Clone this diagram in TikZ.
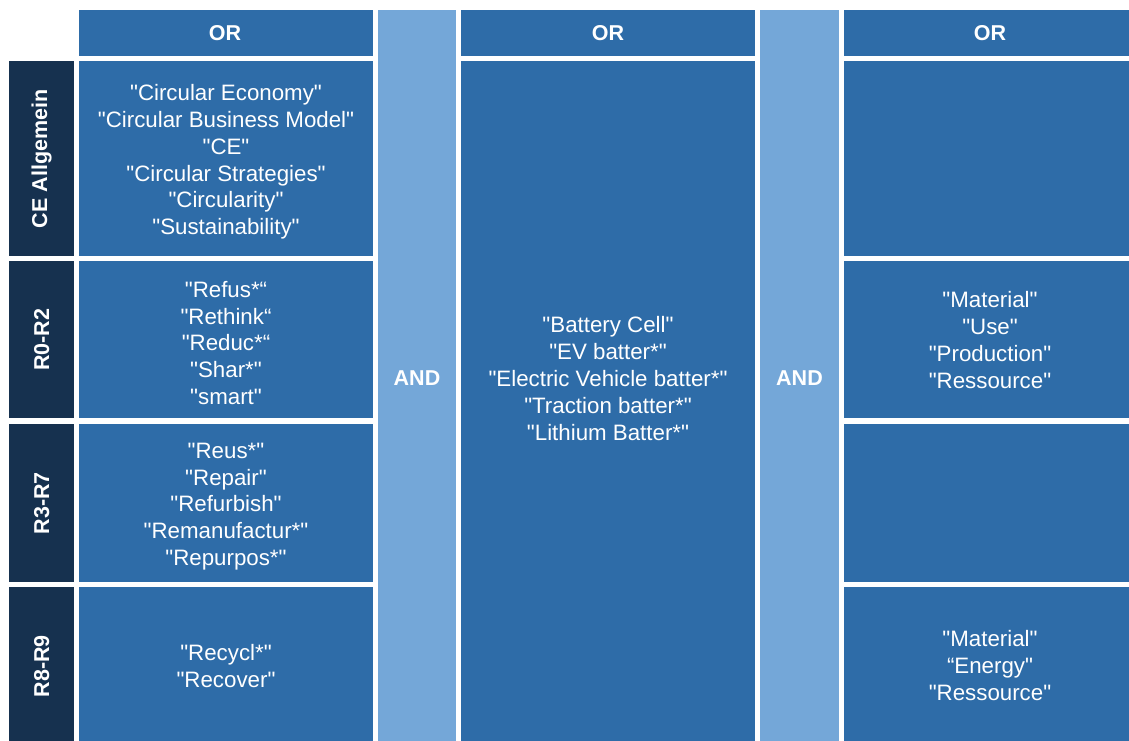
\documentclass[tikz,border=0pt]{standalone}
\usepackage{fontspec}
\setmainfont{Liberation Sans}[Ligatures=TeXOff]
\definecolor{mainblue}{HTML}{2E6CA8}
\definecolor{andblue}{HTML}{74A7D8}
\definecolor{navy}{HTML}{16314F}
\begin{document}
\begin{tikzpicture}[x=1pt,y=-1pt,
  cell/.style={fill=mainblue, draw=none, inner sep=0pt, anchor=north west, text=white, align=center,
    font=\fontsize{22.3}{26.8}\selectfont},
  andcol/.style={fill=andblue, draw=none, inner sep=0pt, anchor=north west},
  rowlab/.style={fill=navy, draw=none, inner sep=0pt, anchor=north west},
  bold/.style={text=white, font=\fontsize{21.5}{26}\selectfont\bfseries, inner sep=0pt},
  txt/.style={text=white, align=center, inner sep=0pt, font=\fontsize{22.3}{26.8}\selectfont}]
\useasboundingbox[fill=white] (0,0) rectangle (1129,740);
% headers
\node[cell, minimum width=294pt, minimum height=46pt] (h1) at (79,10) {};
\node[cell, minimum width=294pt, minimum height=46pt] (h2) at (461,10) {};
\node[cell, minimum width=292pt, minimum height=46pt] (h3) at (844,10) {};
\node[bold] (h1t) at (225,33) {OR};
\node[bold] (h2t) at (608,33) {OR};
\node[bold] (h3t) at (990,33) {OR};
% AND columns
\node[andcol, minimum width=78pt, minimum height=735pt] (a1) at (378,10) {};
\node[andcol, minimum width=79pt, minimum height=735pt] (a2) at (760,10) {};
\node[bold] (a1t) at (417,378) {AND};
\node[bold] (a2t) at (799.5,378) {AND};
% row labels
\node[rowlab, minimum width=65pt, minimum height=195pt] (l1) at (9,61) {};
\node[rowlab, minimum width=65pt, minimum height=157pt] (l2) at (9,261) {};
\node[rowlab, minimum width=65pt, minimum height=158pt] (l3) at (9,424) {};
\node[rowlab, minimum width=65pt, minimum height=158pt] (l4) at (9,587) {};
\node[bold, rotate=90] (l1t) at (l1.center) {CE Allgemein};
\node[bold, rotate=90] (l2t) at (l2.center) {R0-R2};
\node[bold, rotate=90] (l3t) at (l3.center) {R3-R7};
\node[bold, rotate=90] (l4t) at (l4.center) {R8-R9};
% column 1
\node[cell, minimum width=294pt, minimum height=195pt] (c1r1) at (79,61) {};
\node[cell, minimum width=294pt, minimum height=157pt] (c1r2) at (79,261) {};
\node[cell, minimum width=294pt, minimum height=158pt] (c1r3) at (79,424) {};
\node[cell, minimum width=294pt, minimum height=158pt] (c1r4) at (79,587) {};
\node[txt] (c1r1t) at (226,162) {"Circular Economy"\\"Circular Business Model"\\"CE"\\"Circular Strategies"\\"Circularity"\\"Sustainability"};
\node[txt] (c1r2t) at (226,343) {"Refus*“\\"Rethink“\\"Reduc*“\\"Shar*"\\"smart"};
\node[txt] (c1r3t) at (226,506.5) {"Reus*"\\"Repair"\\"Refurbish"\\"Remanufactur*"\\"Repurpos*"};
\node[txt] (c1r4t) at (226,666) {"Recycl*"\\"Recover"};
% column 2
\node[cell, minimum width=294pt, minimum height=684pt] (c2) at (461,61) {};
\node[txt] (c2t) at (608,378.5) {"Battery Cell"\\"EV batter*"\\"Electric Vehicle batter*"\\"Traction batter*"\\"Lithium Batter*"};
% column 3
\node[cell, minimum width=292pt, minimum height=195pt] (c3r1) at (844,61) {};
\node[cell, minimum width=292pt, minimum height=157pt] (c3r2) at (844,261) {};
\node[cell, minimum width=292pt, minimum height=158pt] (c3r3) at (844,424) {};
\node[cell, minimum width=292pt, minimum height=158pt] (c3r4) at (844,587) {};
\node[txt] (c3r2t) at (990,340) {"Material"\\"Use"\\"Production"\\"Ressource"};
\node[txt] (c3r4t) at (990,665.5) {"Material"\\“Energy"\\"Ressource"};
\end{tikzpicture}
\end{document}
